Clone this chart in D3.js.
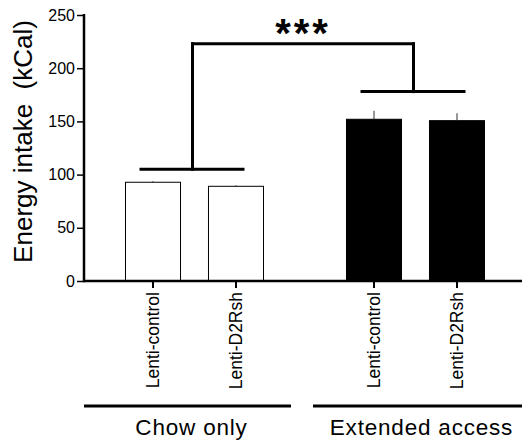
<!DOCTYPE html>
<html><head><meta charset="utf-8">
<script src="https://cdn.jsdelivr.net/npm/d3@7"></script>
<style>body{margin:0;background:#fff}svg{display:block}text{font-family:"Liberation Sans",Arial,Helvetica,sans-serif;fill:#000}</style>
</head><body>
<script>
const groups = ["Chow only", "Extended access"];
const conditions = ["Lenti-control", "Lenti-D2Rsh"];
const chowMeans = [92.8, 89.0];
const chowSem = [1.0, 1.0];
const extMeans = [152.0, 150.7];
const extSem = [8.0, 7.0];
const yTicks = [0, 50, 100, 150, 200, 250];
const yLabel = "Energy intake  (kCal)";
const sigLabel = "***";
const groupBracketLevels = [105, 178];
const topBracketLevel = 223;

const W = 522, H = 442;
const svg = d3.select("body").append("svg").attr("width", W).attr("height", H);

const data = [
  {group: groups[0], cond: conditions[0], mean: chowMeans[0], sem: chowSem[0], fill: "#fff"},
  {group: groups[0], cond: conditions[1], mean: chowMeans[1], sem: chowSem[1], fill: "#fff"},
  {group: groups[1], cond: conditions[0], mean: extMeans[0], sem: extSem[0], fill: "#000"},
  {group: groups[1], cond: conditions[1], mean: extMeans[1], sem: extSem[1], fill: "#000"}
];

const axisX = 84, axisY = 281;
const y = d3.scaleLinear().domain([0, 250]).range([axisY, 15]);
const xg = d3.scaleBand().domain(groups).range([axisX, 526]).padding(0);
const xc = d3.scaleBand().domain(conditions).range([0, xg.bandwidth()]).paddingInner(0.337).paddingOuter(0.5);
const cx = d => xg(d.group) + xc(d.cond) + xc.bandwidth() / 2;

// bars
svg.selectAll("rect.bar").data(data).join("rect")
  .attr("x", d => xg(d.group) + xc(d.cond))
  .attr("y", d => y(d.mean))
  .attr("width", xc.bandwidth())
  .attr("height", d => y(0) - y(d.mean))
  .attr("fill", d => d.fill)
  .attr("stroke", "#000").attr("stroke-width", 1);

// error bars
svg.selectAll("line.err").data(data).join("line")
  .attr("x1", cx).attr("x2", cx)
  .attr("y1", d => y(d.mean)).attr("y2", d => y(d.mean + d.sem))
  .attr("stroke", "#333").attr("stroke-width", 1);

// y axis
const yAxis = d3.axisLeft(y).tickValues(yTicks).tickSize(7).tickPadding(2);
const gy = svg.append("g").attr("transform", `translate(${axisX},0)`).call(yAxis);
gy.select(".domain").remove();
gy.selectAll(".tick line").attr("stroke", "#000").attr("stroke-width", 1.5);
gy.selectAll(".tick text").style("font-size", "16px").attr("fill", "#000");
svg.append("line").attr("x1", axisX).attr("x2", axisX).attr("y1", y(250) - 1).attr("y2", axisY + 1.2)
  .attr("stroke", "#000").attr("stroke-width", 2.5);

// x axis line
svg.append("line").attr("x1", axisX).attr("x2", W).attr("y1", axisY).attr("y2", axisY)
  .attr("stroke", "#000").attr("stroke-width", 2.5);

// category ticks and labels
svg.selectAll("line.ctick").data(data).join("line")
  .attr("x1", cx).attr("x2", cx).attr("y1", axisY).attr("y2", axisY + 7)
  .attr("stroke", "#000").attr("stroke-width", 2);
svg.selectAll("text.clab").data(data).join("text")
  .attr("transform", d => `translate(${cx(d)},${axisY + 11}) rotate(-90)`)
  .attr("text-anchor", "end").attr("dy", "0.35em")
  .style("font-size", "17.5px")
  .text(d => d.cond);

// y label
svg.append("text")
  .attr("transform", `translate(32,141.5) rotate(-90)`)
  .attr("text-anchor", "middle")
  .style("font-size", "26px").style("white-space", "pre")
  .text(yLabel);

// group brackets
const bw = 3;
groups.forEach((g, i) => {
  const c = xg(g) + xg.bandwidth() / 2 - 2;
  svg.append("line").attr("x1", c - 53).attr("x2", c + 52)
    .attr("y1", y(groupBracketLevels[i])).attr("y2", y(groupBracketLevels[i]))
    .attr("stroke", "#000").attr("stroke-width", bw);
  svg.append("line").attr("x1", c).attr("x2", c)
    .attr("y1", y(groupBracketLevels[i])).attr("y2", y(topBracketLevel))
    .attr("stroke", "#000").attr("stroke-width", bw).attr("stroke-linecap", "square");
});
const c0 = xg(groups[0]) + xg.bandwidth() / 2 - 2;
const c1 = xg(groups[1]) + xg.bandwidth() / 2 - 2;
svg.append("line").attr("x1", c0).attr("x2", c1).attr("y1", y(topBracketLevel)).attr("y2", y(topBracketLevel))
  .attr("stroke", "#000").attr("stroke-width", bw).attr("stroke-linecap", "square");
svg.append("text").attr("x", (c0 + c1) / 2).attr("y", y(topBracketLevel) + 3)
  .attr("text-anchor", "middle").style("font-size", "40px").style("font-weight", "bold")
  .style("letter-spacing", "3px")
  .text(sigLabel);

// group underlines & labels
const spans = [[xg(groups[0]), xg(groups[0]) + xg.bandwidth() - 14], [xg(groups[1]) + 8, W]];
groups.forEach((g, i) => {
  svg.append("line").attr("x1", spans[i][0]).attr("x2", spans[i][1]).attr("y1", 406).attr("y2", 406)
    .attr("stroke", "#000").attr("stroke-width", 3);
  svg.append("text").attr("x", (spans[i][0] + spans[i][1]) / 2 + 4).attr("y", 435)
    .attr("text-anchor", "middle").style("font-size", "22.5px").style("letter-spacing", "0.8px")
    .text(g);
});
</script>
</body></html>
